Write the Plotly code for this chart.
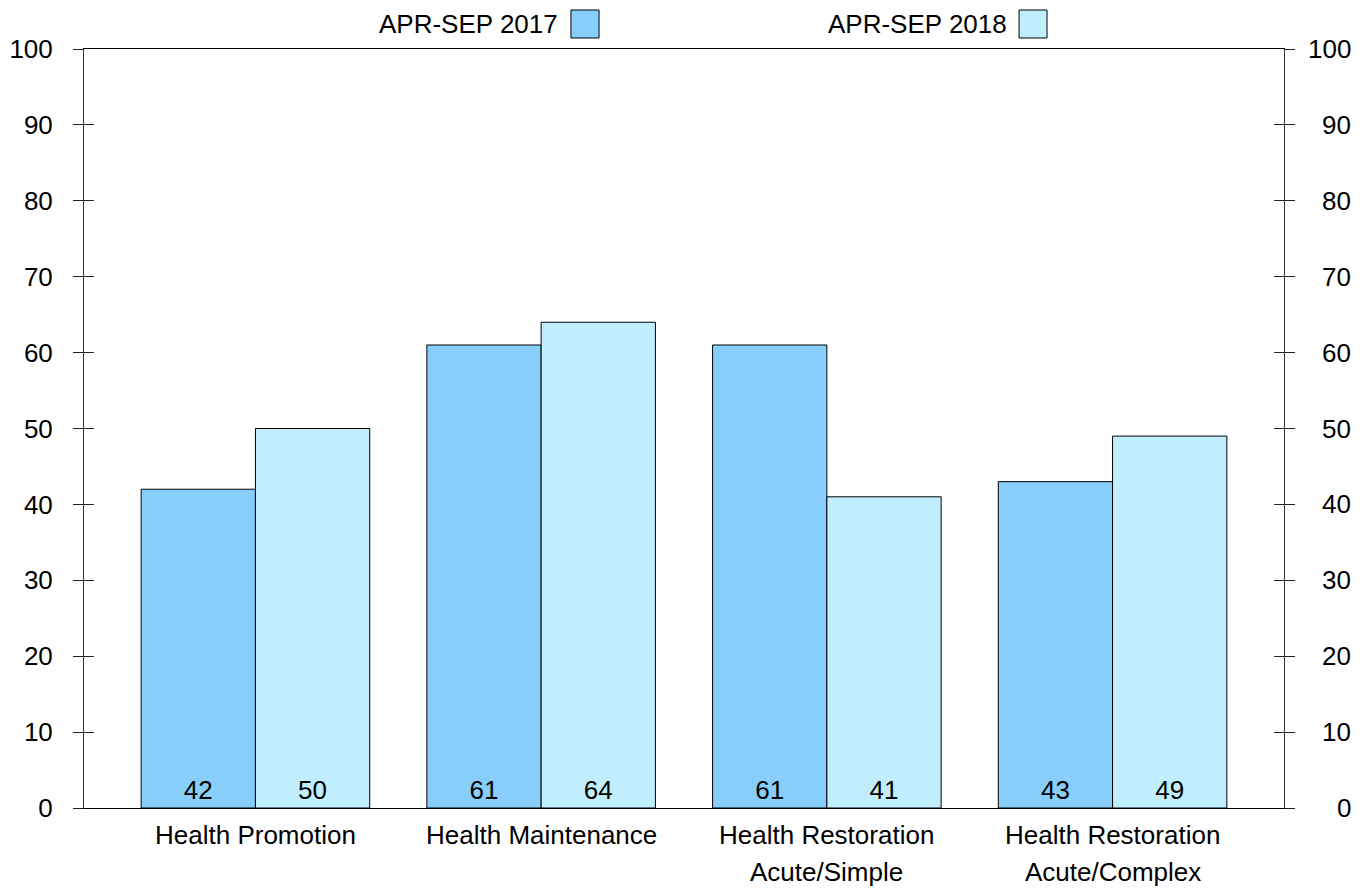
import plotly.graph_objects as go

categories = ["Health Promotion", "Health Maintenance", "Health Restoration Acute/Simple", "Health Restoration Acute/Complex"]
cat_line1 = ["Health Promotion", "Health Maintenance", "Health Restoration", "Health Restoration"]
cat_line2 = ["", "", "Acute/Simple", "Acute/Complex"]
series_names = ["APR-SEP 2017", "APR-SEP 2018"]
values_2017 = [42, 61, 61, 43]
values_2018 = [50, 64, 41, 49]
y_ticks = [0, 10, 20, 30, 40, 50, 60, 70, 80, 90, 100]

colors = ["#87CEFA", "#C0EEFC"]
FONT = "Liberation Sans, Arial, sans-serif"
FS = 26

x_idx = list(range(len(categories)))

fig = go.Figure()
for name, vals, col in zip(series_names, [values_2017, values_2018], colors):
    fig.add_trace(go.Bar(
        x=x_idx, y=vals, name=name,
        marker=dict(color=col, line=dict(color="black", width=1)),
        text=[str(v) for v in vals], textposition="inside",
        insidetextanchor="start", textangle=0, constraintext="none",
        textfont=dict(size=FS, color="black", family=FONT),
        showlegend=False,
    ))

# dummy traces for extra axes
for ax in ["y2", "y3", "y4"]:
    fig.add_trace(go.Scatter(x=[0], y=[0], yaxis=ax, mode="markers",
                             marker=dict(opacity=0), showlegend=False, hoverinfo="skip"))

ycommon = dict(range=[0, 100], tickvals=y_ticks, showgrid=False, zeroline=False,
               ticklen=10, tickwidth=1, tickcolor="#222", showline=True,
               linecolor="#333", linewidth=1, fixedrange=True, automargin=False,
               tickfont=dict(size=FS, family=FONT, color="black"))

# page body has an 8px margin, so the figure is sized to fit the 1370x888 window
fig.update_layout(
    width=1362, height=880,
    margin=dict(l=76, r=86, t=41, b=80, autoexpand=False),
    paper_bgcolor="white", plot_bgcolor="white",
    barmode="group", bargap=0.2, bargroupgap=0,
    font=dict(family=FONT, size=FS, color="black"),
    xaxis=dict(range=[-0.6, 3.6], showticklabels=False, ticks="", showgrid=False,
               zeroline=False, showline=True, linecolor="black", linewidth=1,
               mirror=True, fixedrange=True, automargin=False),
    yaxis=dict(**ycommon, side="left", ticks="outside", ticklabelstandoff=15),
    yaxis2=dict(**ycommon, side="right", overlaying="y", ticks="outside",
                showticklabels=False, anchor="x"),
    yaxis3=dict(**ycommon, side="left", overlaying="y", ticks="inside",
                showticklabels=False, anchor="x"),
    yaxis4=dict(**ycommon, side="right", overlaying="y", ticks="inside",
                showticklabels=False, anchor="x"),
)

# right-side tick labels, right-aligned like the reference
for v in y_ticks:
    fig.add_annotation(x=1, xref="paper", y=v, yref="y", text=str(v), showarrow=False,
                       xanchor="right", yanchor="middle", xshift=69,
                       font=dict(size=FS, family=FONT))

# category labels
for i, (l1, l2) in enumerate(zip(cat_line1, cat_line2)):
    fig.add_annotation(x=i, y=0, xref="x", yref="paper", text=l1, showarrow=False,
                       yanchor="middle", yshift=-27, font=dict(size=FS, family=FONT))
    if l2:
        fig.add_annotation(x=i, y=0, xref="x", yref="paper", text=l2, showarrow=False,
                           yanchor="middle", yshift=-64, font=dict(size=FS, family=FONT))

# custom legend (text followed by swatch)
leg_pos = [(0.3965, 0.4058, 0.4292), (0.771, 0.7792, 0.8025)]
for name, col, (tx, sx0, sx1) in zip(series_names, colors, leg_pos):
    fig.add_annotation(x=tx, y=1.033, xref="paper", yref="paper", text=name,
                       showarrow=False, xanchor="right", yanchor="middle",
                       font=dict(size=FS, family=FONT))
    fig.add_shape(type="rect", xref="paper", yref="paper", x0=sx0, x1=sx1,
                  y0=1.0145, y1=1.0514, fillcolor=col, line=dict(color="black", width=1))

fig.write_html("out.html")
